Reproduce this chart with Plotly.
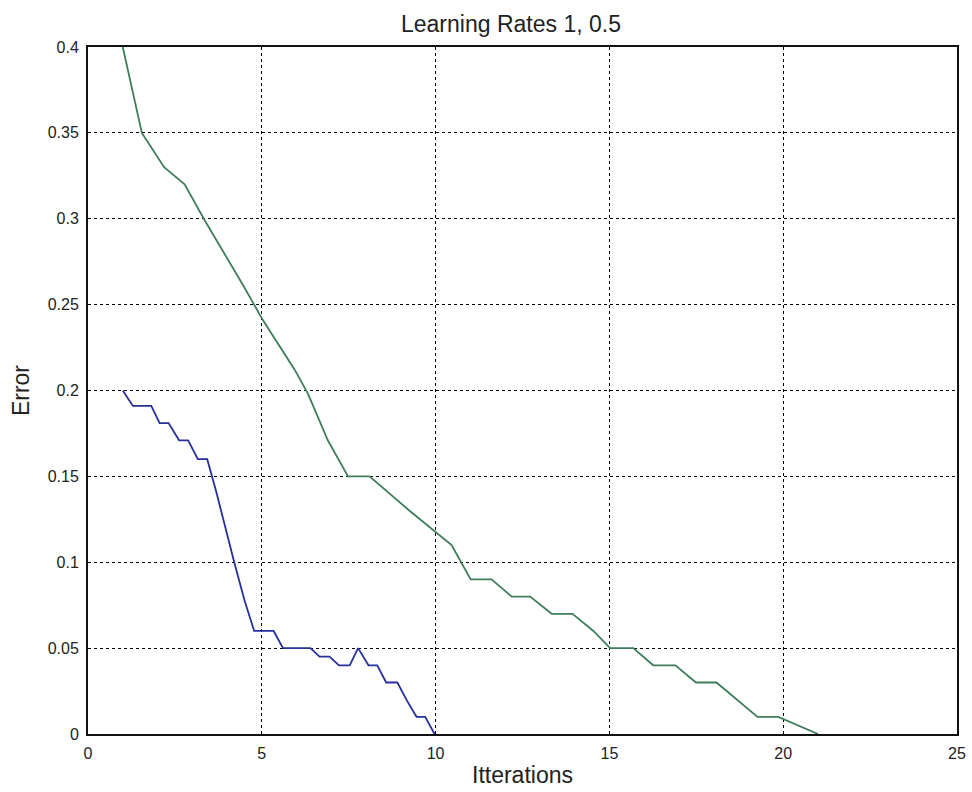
import plotly.graph_objects as go

# Learning rate 1 (blue)
blue_x = [1.0, 1.29, 1.82, 2.06, 2.32, 2.62, 2.88, 3.16, 3.43, 3.69, 4.22, 4.5, 4.78, 5.34, 5.61, 6.4,
          6.66, 6.95, 7.22, 7.53, 7.77, 8.07, 8.32, 8.58, 8.9, 9.16, 9.45, 9.7, 9.97]
blue_y = [0.2, 0.191, 0.191, 0.181, 0.181, 0.171, 0.171, 0.16, 0.16, 0.141, 0.099, 0.078, 0.06, 0.06, 0.05, 0.05,
          0.045, 0.045, 0.04, 0.04, 0.05, 0.04, 0.04, 0.03, 0.03, 0.02, 0.01, 0.01, 0.0]

# Learning rate 0.5 (green)
green_x = [1.0, 1.55, 2.19, 2.78, 3.36, 4.5, 5.03, 5.95, 6.33, 6.9, 7.48, 8.1, 9.25, 10.05, 10.46, 11.01, 11.61,
           12.19, 12.72, 13.34, 13.94, 14.54, 15.02, 15.69, 16.26, 16.9, 17.49, 18.08, 18.66, 19.26, 19.86, 21.0]
green_y = [0.4, 0.35, 0.33, 0.32, 0.299, 0.26, 0.241, 0.212, 0.198, 0.171, 0.15, 0.15, 0.13, 0.117, 0.11, 0.09, 0.09,
           0.08, 0.08, 0.07, 0.07, 0.06, 0.05, 0.05, 0.04, 0.04, 0.03, 0.03, 0.02, 0.01, 0.01, 0.0]

x_ticks = [0, 5, 10, 15, 20, 25]
y_ticks = [0, 0.05, 0.1, 0.15, 0.2, 0.25, 0.3, 0.35, 0.4]
y_labels = ["0", "0.05", "0.1", "0.15", "0.2", "0.25", "0.3", "0.35", "0.4"]

FONT = "Liberation Sans, Arial, Helvetica"

fig = go.Figure()
fig.add_trace(go.Scatter(x=blue_x, y=blue_y, mode="lines", line=dict(color="#28309a", width=1.8),
                         showlegend=False, hoverinfo="skip"))
fig.add_trace(go.Scatter(x=green_x, y=green_y, mode="lines", line=dict(color="#3f7d5c", width=1.8),
                         showlegend=False, hoverinfo="skip"))

axis_common = dict(showline=True, linecolor="#111111", linewidth=2, mirror=True,
                   ticks="", showgrid=True, gridcolor="#000000", griddash="dot", gridwidth=1,
                   zeroline=False, automargin=False,
                   tickfont=dict(family=FONT, size=16, color="#222222"))

fig.update_layout(
    width=972, height=792,
    margin=dict(l=88, r=15, t=47, b=58),
    paper_bgcolor="white", plot_bgcolor="white",
    title=dict(text="Learning Rates 1, 0.5", x=0.5257, xanchor="center", y=0.980, yanchor="top",
               font=dict(family=FONT, size=23, color="#222222")),
    xaxis=dict(range=[0, 25], tickvals=x_ticks, ticktext=[str(t) for t in x_ticks],
               ticklabelstandoff=4,
               title=dict(text="Itterations", standoff=6,
                          font=dict(family=FONT, size=23, color="#222222")),
               **axis_common),
    yaxis=dict(range=[0, 0.4], tickvals=y_ticks, ticktext=y_labels,
               ticklabelstandoff=4,
               title=dict(text="Error", standoff=12,
                          font=dict(family=FONT, size=23, color="#222222")),
               **axis_common),
)

# remove the default 8px page margin so the figure fills the 972x792 window exactly
fig.write_html("out.html",
               config={"displayModeBar": False, "staticPlot": True},
               post_script="document.body.style.margin='0px';document.body.style.overflow='hidden';")
